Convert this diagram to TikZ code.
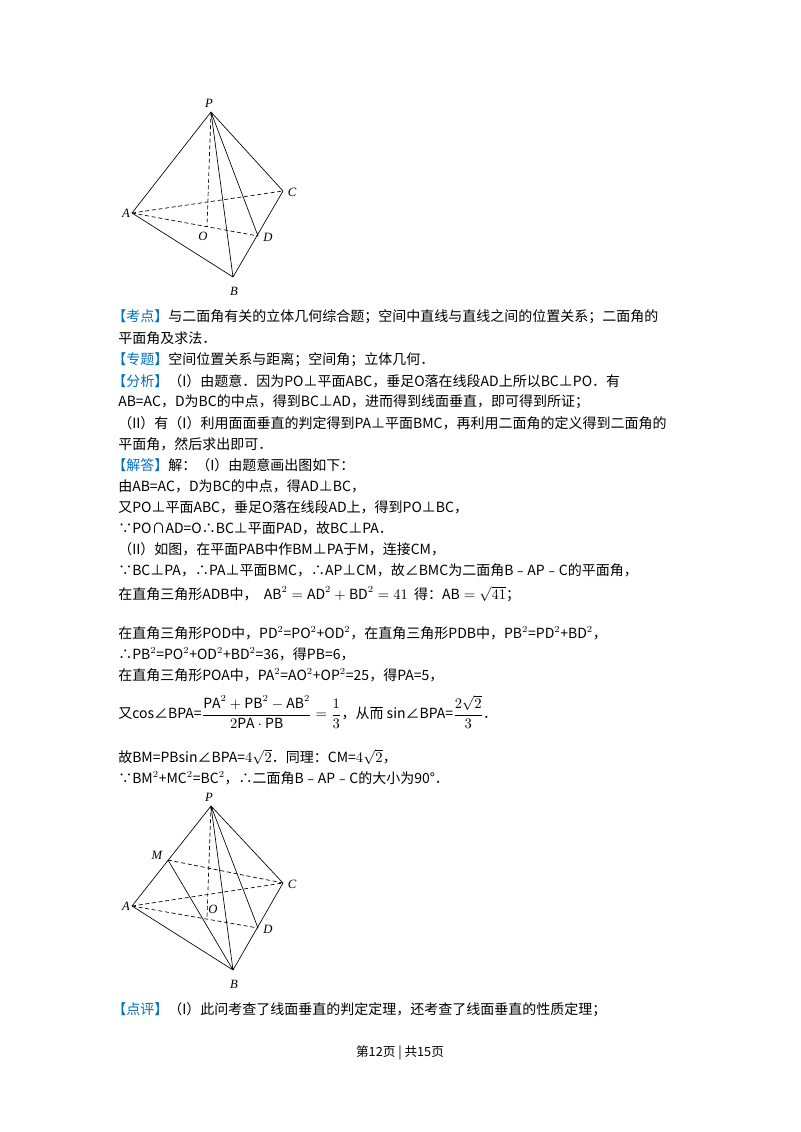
\documentclass[tikz,border=0pt]{standalone}
\usepackage{fontspec}
\setmainfont{Noto Sans CJK SC}
\newfontfamily\lab{Liberation Serif}
\usepackage{amsmath}
\definecolor{kb}{HTML}{0070C0}
\begin{document}
\begin{tikzpicture}[x=0.75pt,y=-0.75pt,
  ln/.style={anchor=west,inner sep=0,font=\fontsize{10.5pt}{12pt}\selectfont},
  sl/.style={line width=0.5pt},
  dl/.style={line width=0.5pt,dash pattern=on 3pt off 2pt},
  lb/.style={font=\lab\itshape\fontsize{9.5pt}{10pt}\selectfont,inner sep=0}]
\useasboundingbox (0,0) rectangle (800,1132);
\newcommand{\kk}[1]{\textcolor{kb}{【#1】}}
% figure 1
\coordinate (P) at (211,112); \coordinate (A) at (132,213); \coordinate (C) at (283,191);
\coordinate (O) at (207,226); \coordinate (D) at (258,236); \coordinate (B) at (233,277);
\draw[sl] (A)--(P)--(C)--(B)--(A) (P)--(B) (P)--(D);
\draw[dl] (P)--(O) (A)--(C) (A)--(D);
\node[lb] (lP) at (209,103) {P}; \node[lb] (lA) at (126,213) {A}; \node[lb] (lC) at (292,192) {C};
\node[lb] (lO) at (203,236) {O}; \node[lb] (lD) at (268,237) {D}; \node[lb] (lB) at (234,291) {B};
% figure 2
\coordinate (P2) at (211,806); \coordinate (A2) at (132,906); \coordinate (C2) at (283,883);
\coordinate (O2) at (207,918); \coordinate (D2) at (258,928); \coordinate (B2) at (233,970);
\coordinate (M2) at (168,860);
\draw[sl] (A2)--(P2)--(C2)--(B2)--(A2) (P2)--(B2) (P2)--(D2) (M2)--(B2);
\draw[dl] (P2)--(O2) (A2)--(C2) (A2)--(D2) (M2)--(C2);
\node[lb] (lP2) at (209,797) {P}; \node[lb] (lM2) at (157,855) {M}; \node[lb] (lA2) at (126,906) {A};
\node[lb] (lO2) at (213,909) {O}; \node[lb] (lC2) at (292,884) {C}; \node[lb] (lD2) at (268,929) {D};
\node[lb] (lB2) at (234,984) {B};
% text
\node[ln] (t1) at (112,317) {\kk{考点}与二面角有关的立体几何综合题；空间中直线与直线之间的位置关系；二面角的};
\node[ln] (t2) at (118,338) {平面角及求法．};
\node[ln] (t3) at (112,360) {\kk{专题}空间位置关系与距离；空间角；立体几何．};
\node[ln] (t4) at (112,381) {\kk{分析}（I）由题意．因为PO⊥平面ABC，垂足O落在线段AD上所以BC⊥PO．有};
\node[ln] (t5) at (118,402) {AB=AC，D为BC的中点，得到BC⊥AD，进而得到线面垂直，即可得到所证；};
\node[ln] (t6) at (118,423) {（II）有（I）利用面面垂直的判定得到PA⊥平面BMC，再利用二面角的定义得到二面角的};
\node[ln] (t7) at (118,444) {平面角，然后求出即可．};
\node[ln] (t8) at (112,465) {\kk{解答}解：（I）由题意画出图如下：};
\node[ln] (t9) at (118,486) {由AB=AC，D为BC的中点，得AD⊥BC，};
\node[ln] (t10) at (118,507) {又PO⊥平面ABC，垂足O落在线段AD上，得到PO⊥BC，};
\node[ln] (t11) at (118,528) {∵PO∩AD=O∴BC⊥平面PAD，故BC⊥PA．};
\node[ln] (t12) at (118,549) {（II）如图，在平面PAB中作BM⊥PA于M，连接CM，};
\node[ln] (t13) at (118,570) {∵BC⊥PA，∴PA⊥平面BMC，∴AP⊥CM，故∠BMC为二面角B﹣AP﹣C的平面角，};
\node[ln] (t14) at (118,594) {在直角三角形ADB中，\ \ $\mathrm{AB}^2=\mathrm{AD}^2+\mathrm{BD}^2=41$\ \ 得：$\mathrm{AB}=\sqrt{41}$；};
\node[ln] (t15) at (118,633) {在直角三角形POD中，PD$^2$=PO$^2$+OD$^2$，在直角三角形PDB中，PB$^2$=PD$^2$+BD$^2$，};
\node[ln] (t16) at (118,654) {∴PB$^2$=PO$^2$+OD$^2$+BD$^2$=36，得PB=6，};
\node[ln] (t17) at (118,675) {在直角三角形POA中，PA$^2$=AO$^2$+OP$^2$=25，得PA=5，};
\node[ln] (t18) at (118,712) {又cos∠BPA=$\dfrac{\mathrm{PA}^2+\mathrm{PB}^2-\mathrm{AB}^2}{2\mathrm{PA}\cdot\mathrm{PB}}=\dfrac{1}{3}$，从而 sin∠BPA=$\dfrac{2\sqrt{2}}{3}$．};
\node[ln] (t19) at (118,757) {故BM=PBsin∠BPA=$4\sqrt{2}$．同理：CM=$4\sqrt{2}$，};
\node[ln] (t20) at (118,778) {∵BM$^2$+MC$^2$=BC$^2$，∴二面角B﹣AP﹣C的大小为90°．};
\node[ln] (t21) at (112,1010) {\kk{点评}（I）此问考查了线面垂直的判定定理，还考查了线面垂直的性质定理；};
\node[inner sep=0,font=\fontsize{9.5pt}{11pt}\selectfont] (ft) at (400,1053) {第12页 | 共15页};
\end{tikzpicture}
\end{document}
